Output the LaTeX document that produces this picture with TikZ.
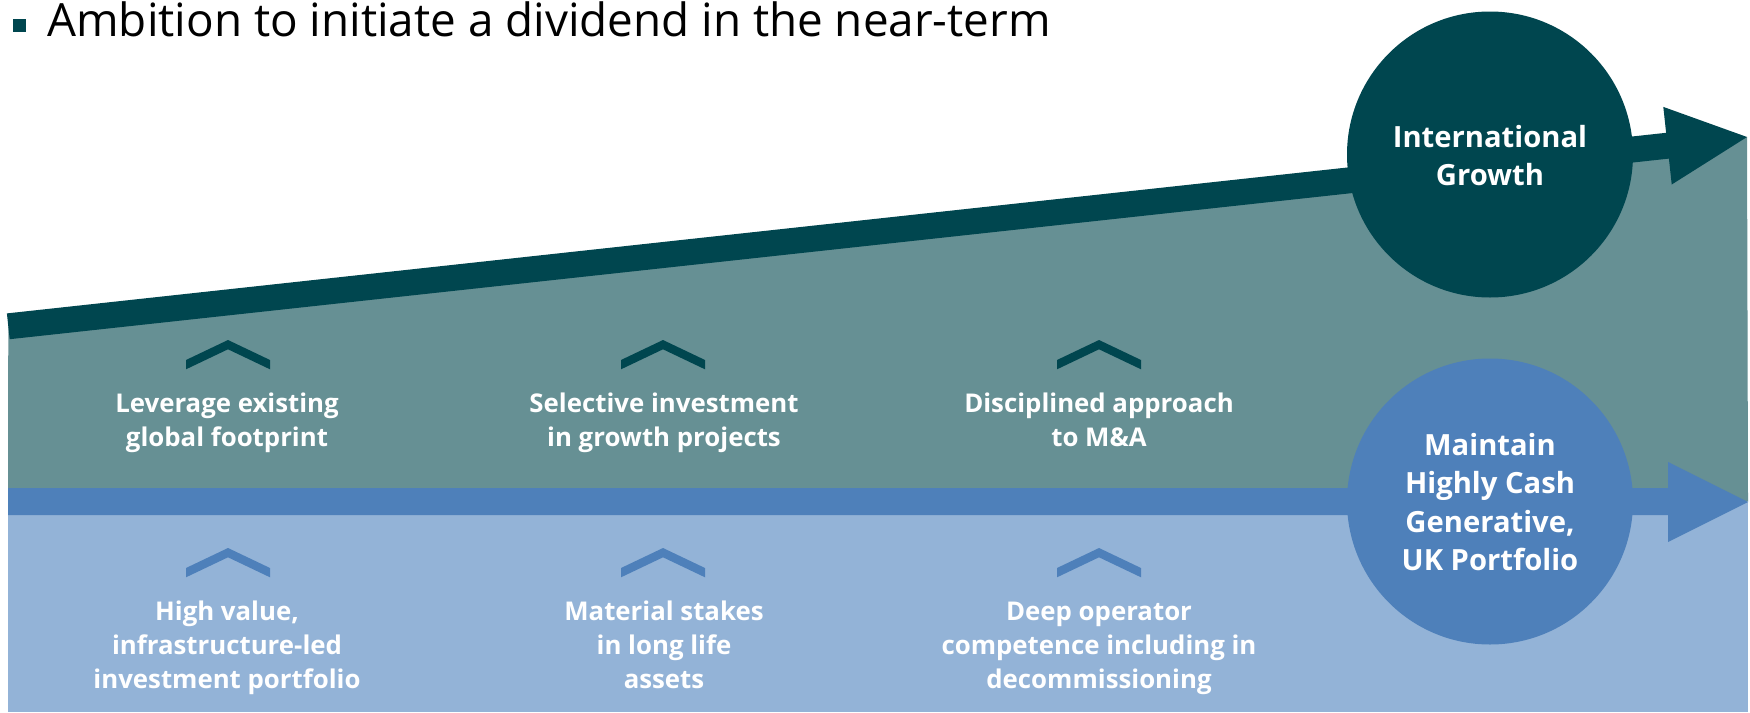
\documentclass[tikz,border=0pt]{standalone}
\usepackage{fontspec}
\setmainfont{Open Sans}
\definecolor{darkteal}{HTML}{00464F}
\definecolor{midteal}{HTML}{669094}
\definecolor{blueband}{HTML}{4E80BA}
\definecolor{lightblue}{HTML}{93B3D7}
\newcommand{\mlines}[1]{\begin{tabular}[t]{@{}c@{}}#1\end{tabular}}
\tikzset{
  chevron/.pic={\fill[pic actions] (-42,20) -- (0,0) -- (42,20) -- (42,29.3) -- (0,9.3) -- (-42,29.3) -- cycle;},
  midtext/.style={text=white, inner sep=0, anchor=base, font=\fontsize{12.9}{17}\selectfont\bfseries},
  circtext/.style={text=white, inner sep=0, anchor=base, font=\fontsize{14.6}{19.1}\selectfont\bfseries},
  bigcirc/.style={circle, inner sep=0, minimum size=143pt}
}
\begin{document}
\begin{tikzpicture}[x=0.5pt,y=-0.5pt]
\useasboundingbox (0,0) rectangle (1750,712);
\fill[white] (0,0) rectangle (1750,712);
% title
\node[fill=darkteal, minimum size=6.5pt, inner sep=0] (bul) at (19,25) {};
\node[anchor=base west, inner sep=0, font=\fontsize{22.9}{27}\selectfont] (title) at (47,36.7) {Ambition to initiate a dividend in the near-term};
% background regions
\fill[midteal] (8.3,326.3) -- (1747,137) -- (1748,501.5) -- (8,501.5) -- cycle;
\fill[lightblue] (8,501.5) rectangle (1748,712);
% arrows
\fill[blueband] (8,488) -- (1668,488) -- (1668,462) -- (1748,502) -- (1668,542) -- (1668,515) -- (8,515) -- cycle;
\fill[darkteal] (6.9,313.4) -- (1666.1,132.8) -- (1663.3,106.9) -- (1747,137) -- (1671.7,184.5) -- (1668.9,158.6) -- (9.7,339.2) -- cycle;
% circles
\node[bigcirc, fill=darkteal] (ig) at (1490,154.5) {};
\node[bigcirc, fill=blueband] (uk) at (1490,501.5) {};
\node[circtext] (igt) at (1490,147.3) {\mlines{International\\Growth}};
\node[circtext] (ukt) at (1490,455.7) {\mlines{Maintain\\Highly Cash\\Generative,\\UK Portfolio}};
% chevrons
\pic[fill=darkteal] (c1) at (228,340) {chevron};
\pic[fill=darkteal] (c2) at (663,340) {chevron};
\pic[fill=darkteal] (c3) at (1099,340) {chevron};
\pic[fill=blueband] (c4) at (228,548) {chevron};
\pic[fill=blueband] (c5) at (663,548) {chevron};
\pic[fill=blueband] (c6) at (1099,548) {chevron};
% texts
\node[midtext] (t1) at (227,412) {\mlines{Leverage existing\\global footprint}};
\node[midtext] (t2) at (664,412) {\mlines{Selective investment\\in growth projects}};
\node[midtext] (t3) at (1099,412) {\mlines{Disciplined approach\\to M\&A}};
\node[midtext] (b1) at (227,620) {\mlines{High value,\\infrastructure-led\\investment portfolio}};
\node[midtext] (b2) at (664,620) {\mlines{Material stakes\\in long life\\assets}};
\node[midtext] (b3) at (1099,620) {\mlines{Deep operator\\competence including in\\decommissioning}};
\end{tikzpicture}
\end{document}
